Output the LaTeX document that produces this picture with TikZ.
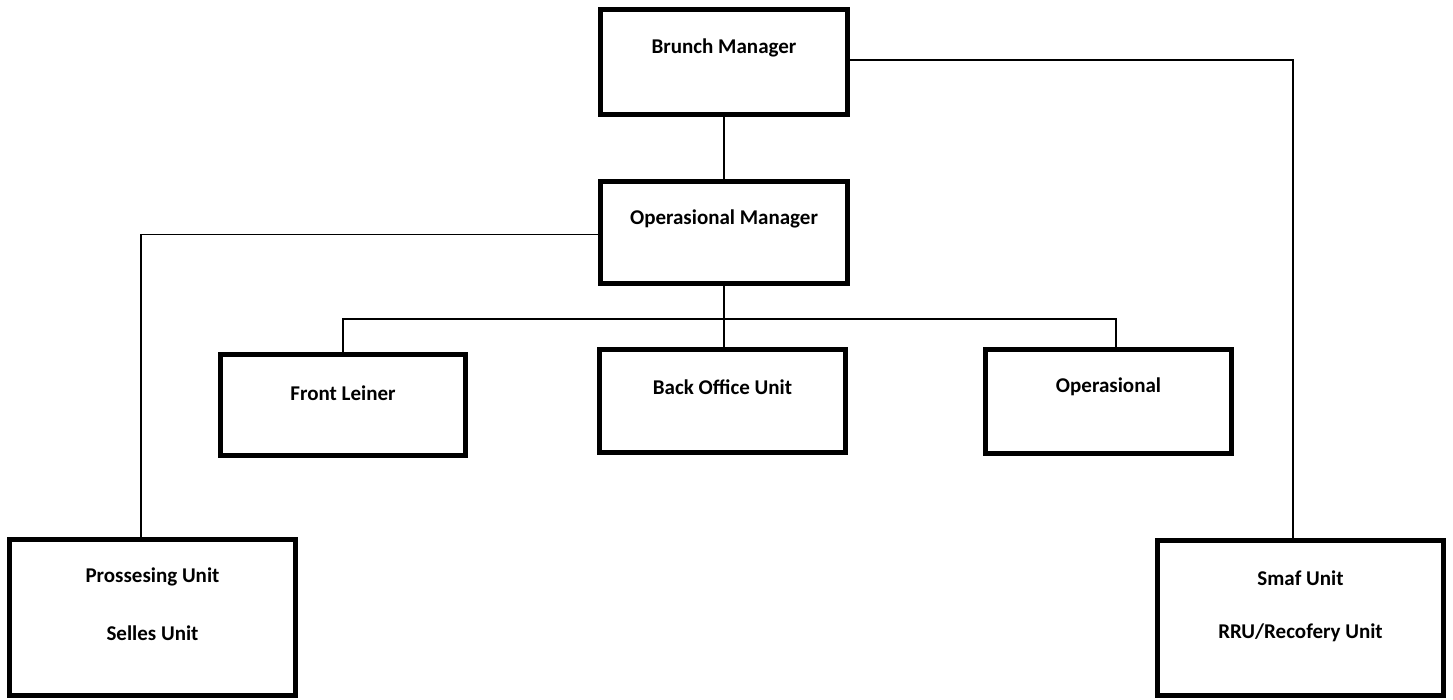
\documentclass[tikz,border=0pt]{standalone}
\usepackage{fontspec}
\setmainfont{Carlito}
\usepackage{tikz}
\usetikzlibrary{calc}
\tikzset{
  unitbox/.style={draw, line width=5pt, inner sep=0pt},
  unitlbl/.style={font=\bfseries\fontsize{21}{25}\selectfont, inner sep=0pt},
  linkln/.style={line width=1.5pt},
}

\begin{document}
\begin{tikzpicture}[x=1pt, y=-1pt]
    \useasboundingbox (0,0) rectangle (1453,700);
    % boxes
    \node[unitbox, minimum width=247pt, minimum height=105pt] (bm) at (724,62) {};
    \node[unitbox, minimum width=247pt, minimum height=102pt] (om) at (724,232.5) {};
    \node[unitbox, minimum width=245pt, minimum height=101pt] (fl) at (343,405) {};
    \node[unitbox, minimum width=246pt, minimum height=103pt] (bo) at (722.5,401) {};
    \node[unitbox, minimum width=246pt, minimum height=104pt] (op) at (1108.5,401.5) {};
    \node[unitbox, minimum width=286pt, minimum height=156pt] (pu) at (152.5,617.5) {};
    \node[unitbox, minimum width=286pt, minimum height=155pt] (su) at (1300.5,618) {};
    % labels
    \node[unitlbl] (bmtxt) at (724,48) {Brunch Manager};
    \node[unitlbl] (omtxt) at (724,219) {Operasional Manager};
    \node[unitlbl] (fltxt) at (343,393) {Front Leiner};
    \node[unitlbl] (botxt) at (722.5,387) {Back Office Unit};
    \node[unitlbl] (optxt) at (1108.5,387) {Operasional};
    \node[unitlbl] (putxta) at (152.5,577) {Prossesing Unit};
    \node[unitlbl] (putxtb) at (152.5,633) {Selles Unit};
    \node[unitlbl] (sutxta) at (1300.5,578) {Smaf Unit};
    \node[unitlbl] (sutxtb) at (1300.5,633) {RRU/Recofery Unit};
    % links
    \coordinate (bus) at (724,319);
    \draw[linkln] (bm.south) -- (om.north);
    \draw[linkln] ($(bm.east)+(0,-2)$) -| ($(su.north)+(-7.5,0)$);
    \draw[linkln] ($(om.west)+(0,2)$) -| ($(pu.north)+(-11.5,0)$);
    \draw[linkln] (om.south) -- (om.south |- bo.north);
    \draw[linkln] (fl.north) |- (bus) -| ($(op.north)+(7.5,0)$);
\end{tikzpicture}
\end{document}
